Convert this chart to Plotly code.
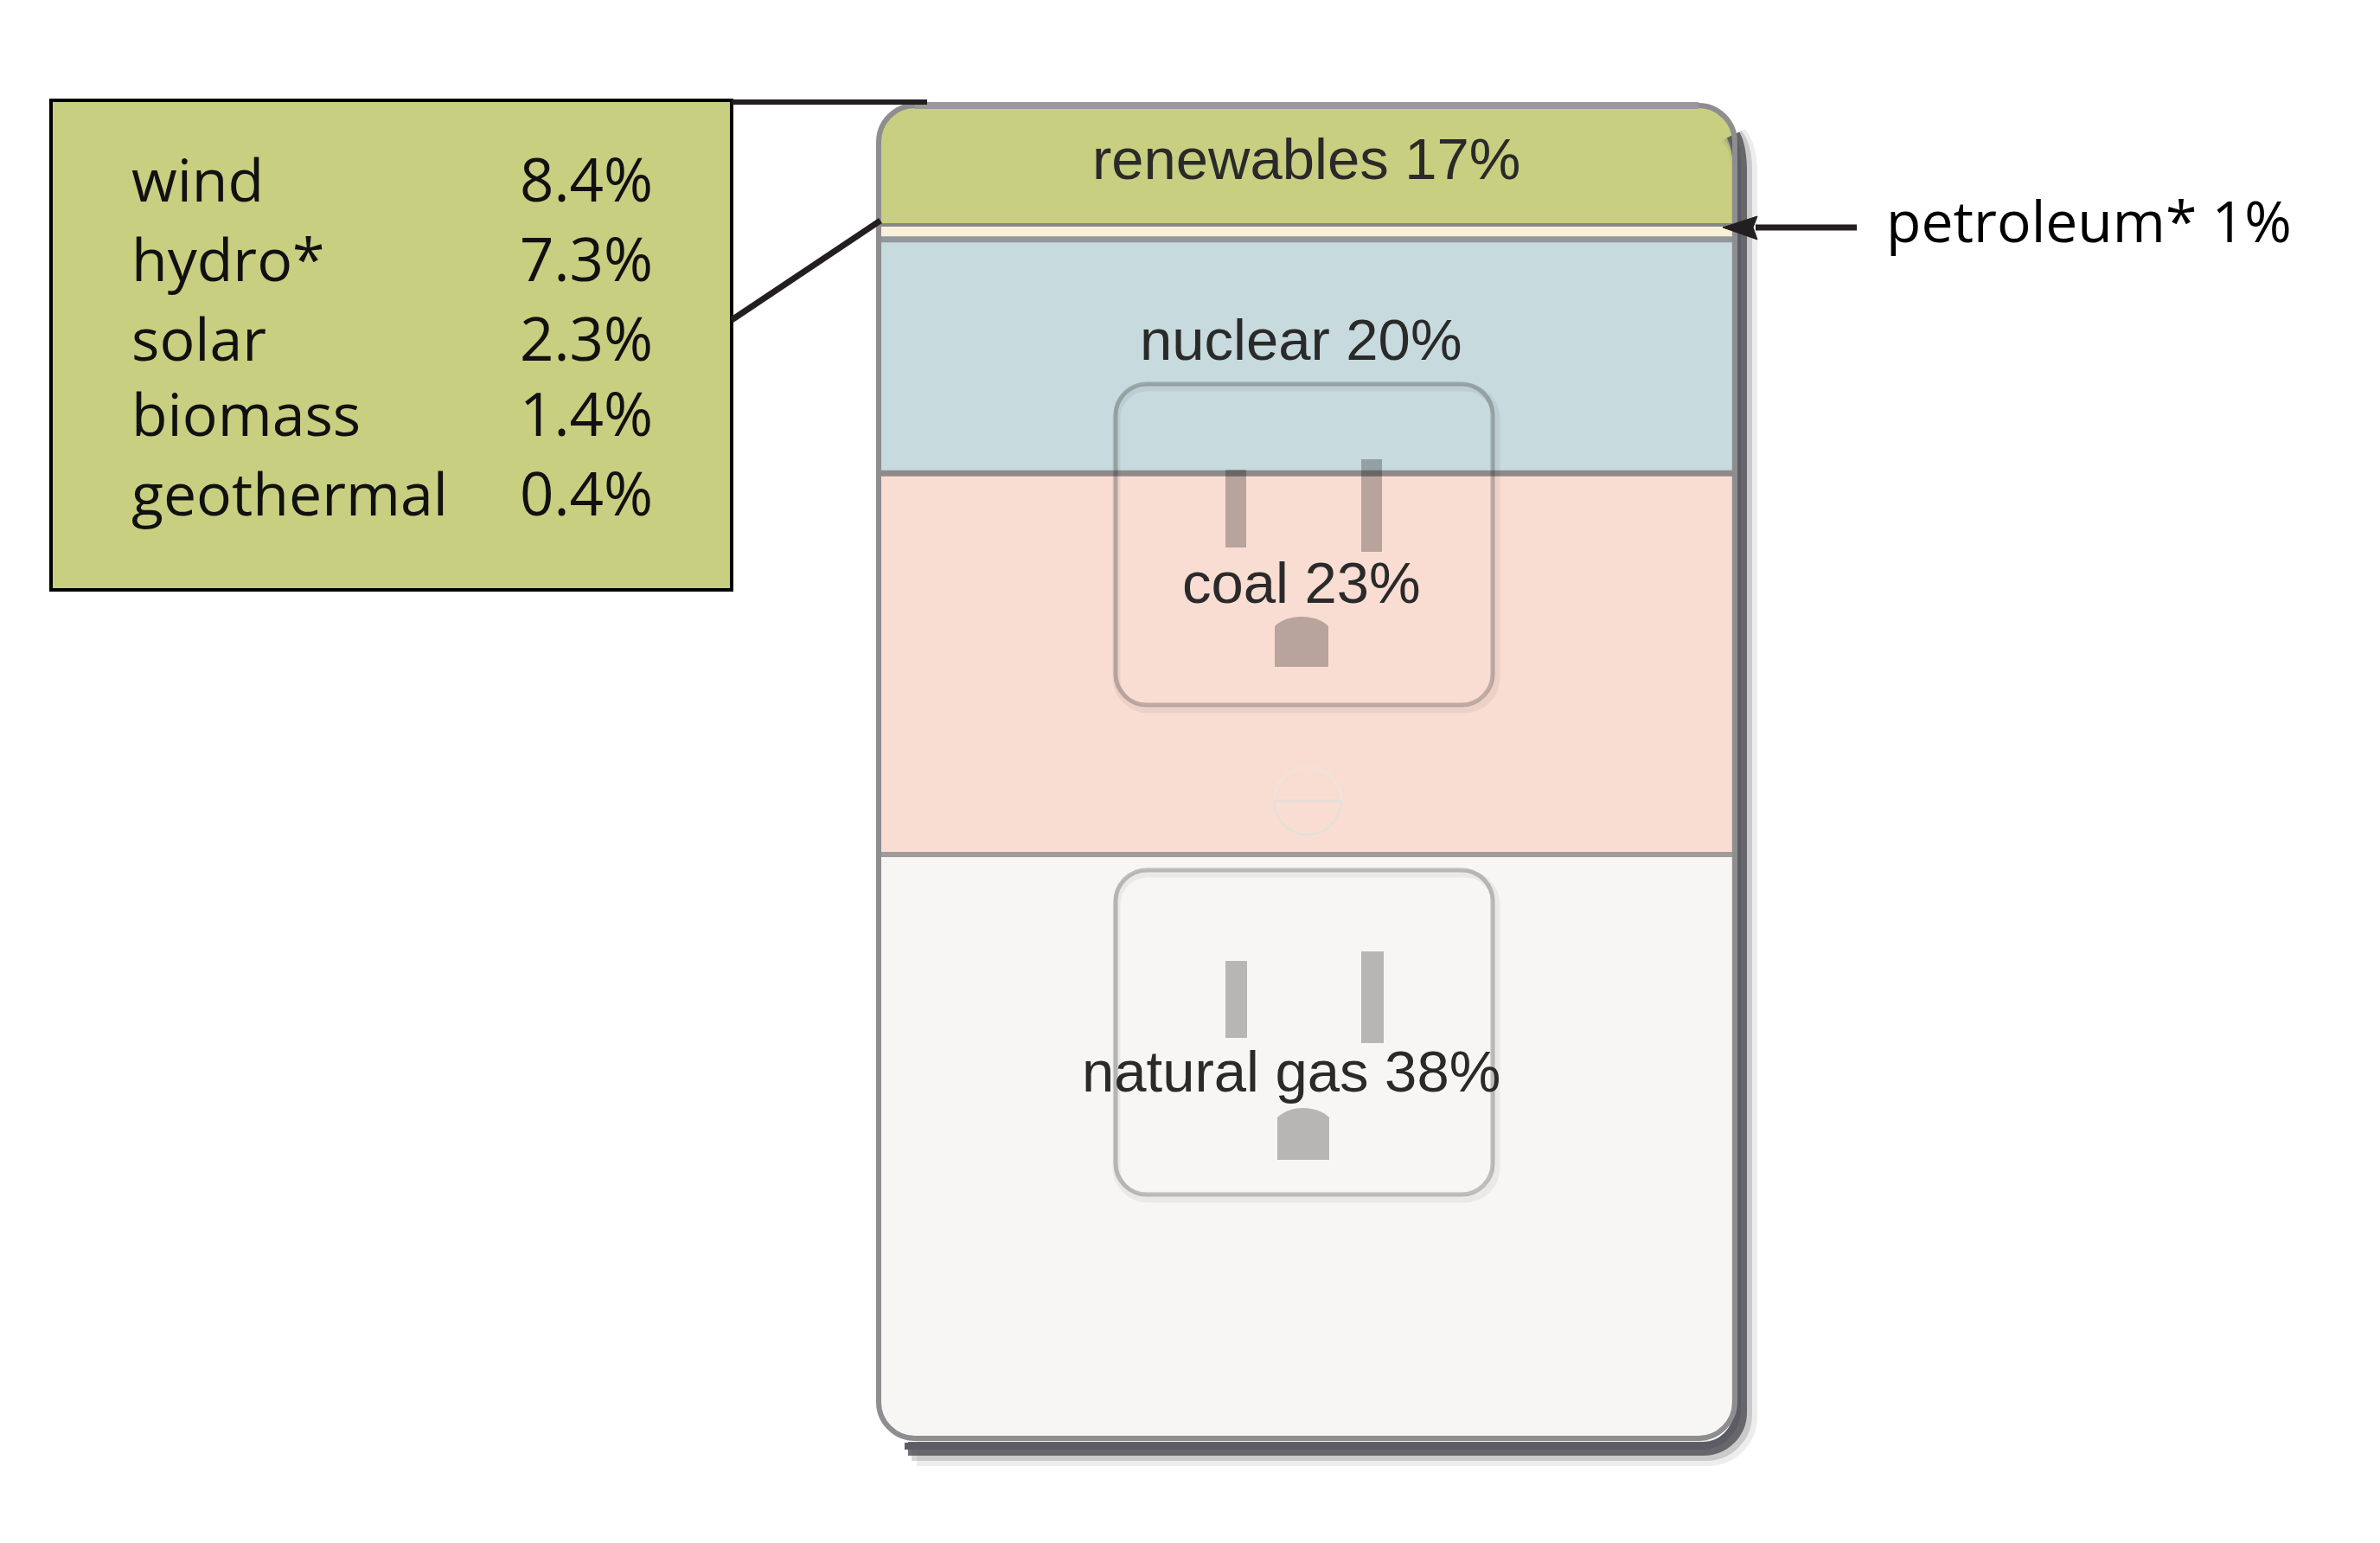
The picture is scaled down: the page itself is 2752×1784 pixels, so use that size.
import plotly.graph_objects as go

# ---- data ----
sources = ["natural gas", "coal", "nuclear", "petroleum*", "renewables"]
labelled_share = [38, 23, 20, 1, 17]
# band heights as drawn (the picture is not to scale), in % of outlet height
drawn_height = [43.8, 28.6, 17.55, 1.1, 8.95]
band_colors = ["#f7f6f5", "#f9ddd3", "#c7dadd", "#f8f0d8", "#c8cf80"]

renewable_sources = ["wind", "hydro*", "solar", "biomass", "geothermal"]
renewable_shares = ["8.4%", "7.3%", "2.3%", "1.4%", "0.4%"]

W, H = 2752, 1784
BX0, BX1, BY0, BY1 = 1016, 2006, 122, 1663
R = 42


def px(x):
    return x / W


def py(y):
    return 1 - y / H


def pt(x, y):
    return f"{px(x):.5f},{py(y):.5f}"


def rrect(x0, y0, x1, y1, r):
    k = r * 0.45
    return (f"M{pt(x0+r,y0)} L{pt(x1-r,y0)} C{pt(x1-k,y0)} {pt(x1,y0+k)} {pt(x1,y0+r)} "
            f"L{pt(x1,y1-r)} C{pt(x1,y1-k)} {pt(x1-k,y1)} {pt(x1-r,y1)} "
            f"L{pt(x0+r,y1)} C{pt(x0+k,y1)} {pt(x0,y1-k)} {pt(x0,y1-r)} "
            f"L{pt(x0,y0+r)} C{pt(x0,y0+k)} {pt(x0+k,y0)} {pt(x0+r,y0)} Z")


def shape_path(path, fill="rgba(0,0,0,0)", line=None, width=0):
    return dict(type="path", path=path, xref="paper", yref="paper", layer="above",
                fillcolor=fill, line=dict(color=line or "rgba(0,0,0,0)", width=width))


def seg(x0, y0, x1, y1, color, width):
    return dict(type="line", xref="paper", yref="paper", layer="above",
                x0=px(x0), y0=py(y0), x1=px(x1), y1=py(y1),
                line=dict(color=color, width=width))


fig = go.Figure()
for name, h, c in zip(sources, drawn_height, band_colors):
    fig.add_trace(go.Bar(x=["outlet"], y=[h], name=name, width=1,
                         marker=dict(color=c, line=dict(width=0)),
                         hoverinfo="skip", showlegend=False))

shapes = []
# corner masks that round the stacked bar
k = R * 0.45
for cx, cy, sx, sy in [(BX0, BY0, 1, 1), (BX1, BY0, -1, 1), (BX0, BY1, 1, -1), (BX1, BY1, -1, -1)]:
    shapes.append(shape_path(
        f"M{pt(cx-6*sx,cy-6*sy)} L{pt(cx+R*sx,cy-6*sy)} L{pt(cx+R*sx,cy)} "
        f"C{pt(cx+k*sx,cy)} {pt(cx,cy+k*sy)} {pt(cx,cy+R*sy)} L{pt(cx-6*sx,cy+R*sy)} Z",
        fill="#ffffff"))


# outlet shadow (right and bottom)
def shadow(off, color, width, start=0):
    x1, y1 = BX1 + off, BY1 + off + 6
    return shape_path(
        f"M{pt(BX1-2,BY0+34)} C{pt(BX1,BY0+38)} {pt(x1-1,BY0+44)} {pt(x1,BY0+R+30)} "
        f"L{pt(x1,y1-R)} C{pt(x1,y1-k)} {pt(x1-k,y1)} {pt(x1-R,y1)} "
        f"L{pt(BX0+30+start,y1)}",
        line=color, width=width)


shapes += [shadow(11, "rgba(130,130,130,0.14)", 30, 14),
           shadow(9, "rgba(110,110,110,0.28)", 22, 8),
           shadow(6, "rgba(85,85,90,0.85)", 16, 4),
           shadow(3, "#5c5c64", 8, 0)]

# band separators, positioned on the bar's own value axis
sep_styles = [("#a09a98", 6), ("#8f8a8a", 7), ("#92979b", 7), ("#868686", 4)]
cum = 0
for h, (col, w) in zip(drawn_height[:4], sep_styles):
    cum += h
    shapes.append(dict(type="line", xref="paper", yref="y", layer="above",
                       x0=px(BX0), x1=px(BX1), y0=cum, y1=cum,
                       line=dict(color=col, width=w)))

# outlet outline
shapes.append(shape_path(rrect(BX0, BY0, BX1, BY1, R), line="#8e8d90", width=6))
shapes.append(seg(BX0 + R, 122, BX1 - R, 122, "#9a989c", 8))


# sockets
def socket(y0, y1, slots, ground):
    out = [shape_path(rrect(1291, y0 + 4, 1730, y1 + 5, 36), line="rgba(0,0,0,0.05)", width=9),
           shape_path(rrect(1290, y0, 1726, y1, 36), line="rgba(40,40,40,0.27)", width=5)]
    for sx0, sx1, sy0, sy1 in slots:
        out.append(dict(type="rect", xref="paper", yref="paper", layer="above",
                        x0=px(sx0), x1=px(sx1), y0=py(sy0), y1=py(sy1),
                        fillcolor="rgba(0,0,0,0.26)", line=dict(width=0)))
    gx0, gx1, gy0, gy1 = ground
    out.append(shape_path(
        f"M{pt(gx0,gy1)} L{pt(gx0,gy0+11)} C{pt(gx0+8,gy0+3)} {pt(gx0+20,gy0)} {pt((gx0+gx1)/2,gy0)} "
        f"C{pt(gx1-20,gy0)} {pt(gx1-8,gy0+3)} {pt(gx1,gy0+11)} L{pt(gx1,gy1)} Z",
        fill="rgba(0,0,0,0.26)"))
    return out


shapes += socket(444, 815, [(1417, 1441, 543, 633), (1574, 1598, 531, 638)], (1474, 1536, 713, 771))
shapes += socket(1006, 1381, [(1417, 1442, 1111, 1200), (1574, 1600, 1100, 1206)], (1477, 1537, 1281, 1341))

# screw between the sockets
c = 39 * 0.55
sx, sy = 1512, 926
shapes.append(shape_path(
    f"M{pt(sx-39,sy)} C{pt(sx-39,sy-c)} {pt(sx-c,sy-39)} {pt(sx,sy-39)} "
    f"C{pt(sx+c,sy-39)} {pt(sx+39,sy-c)} {pt(sx+39,sy)}",
    line="#f3e2da", width=3))
shapes.append(shape_path(
    f"M{pt(sx+39,sy)} C{pt(sx+39,sy+c)} {pt(sx+c,sy+39)} {pt(sx,sy+39)} "
    f"C{pt(sx-c,sy+39)} {pt(sx-39,sy+c)} {pt(sx-39,sy)} L{pt(sx+39,sy)}",
    line="#e6e0d8", width=3))

# callout box and leader lines
shapes.append(dict(type="rect", xref="paper", yref="paper", layer="above",
                   x0=px(59), x1=px(846), y0=py(116), y1=py(682),
                   fillcolor="#c8cf80", line=dict(color="#000000", width=4)))
shapes.append(seg(846, 118, 1072, 118, "#231f20", 6))
shapes.append(seg(846, 370, 1018, 255, "#231f20", 7))

# petroleum arrow
shapes.append(seg(2030, 263, 2147, 263, "#231f20", 7))
shapes.append(shape_path(f"M{pt(1992,263)} L{pt(2032,250)} L{pt(2027,263)} L{pt(2032,277)} Z",
                         fill="#231f20", line="#231f20", width=1))

SANS = "Liberation Sans, Arial, sans-serif"
CALL = "Open Sans, Noto Sans, sans-serif"
ann = []


def text(s, x, base, size, font, anchor="center", color="#231f20", ratio=0.346):
    ann.append(dict(text=s, xref="paper", yref="paper", x=px(x), y=py(base - ratio * size),
                    xanchor=anchor, yanchor="middle", showarrow=False, borderpad=0,
                    font=dict(family=font, size=size, color=color)))


label_pos = {"natural gas": (1493, 1262), "coal": (1505, 697), "nuclear": (1504, 416), "renewables": (1510, 207)}
for s, v in zip(sources, labelled_share):
    if s in label_pos:
        x, b = label_pos[s]
        text(f"{s} {v}%", x, b, 67, SANS, color="#2a2a2a")

text(f"{sources[3]} {labelled_share[3]}%", 2180, 280, 66, CALL, anchor="left", color="#000000", ratio=0.388)

baselines = [233, 325, 417, 504, 596]
for s, v, b in zip(renewable_sources, renewable_shares, baselines):
    text(s, 151, b, 68, CALL, anchor="left", color="#111111", ratio=0.388)
    text(v, 756, b, 69, CALL, anchor="right", color="#111111", ratio=0.388)

fig.update_layout(
    width=W, height=H, margin=dict(l=0, r=0, t=0, b=0, pad=0),
    paper_bgcolor="#ffffff", plot_bgcolor="rgba(0,0,0,0)",
    barmode="stack", bargap=0, showlegend=False,
    xaxis=dict(domain=[px(BX0), px(BX1)], type="category", range=[-0.5, 0.5], visible=False, fixedrange=True),
    yaxis=dict(domain=[py(BY1), py(BY0)], range=[0, sum(drawn_height)], visible=False, fixedrange=True),
    shapes=shapes, annotations=ann,
)

fig.write_html("out.html", config=dict(displayModeBar=False),
               post_script="document.body.style.margin='0';document.body.style.overflow='hidden';")
